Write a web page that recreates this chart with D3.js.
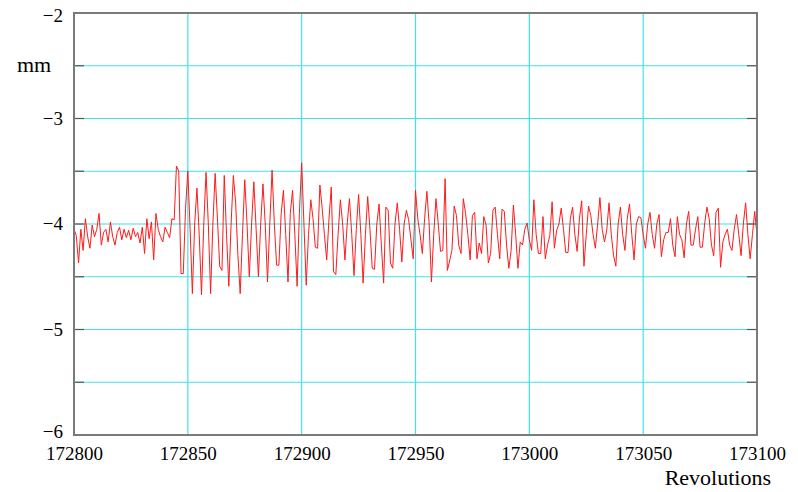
<!DOCTYPE html>
<html>
<head>
<meta charset="utf-8">
<script src="https://cdn.jsdelivr.net/npm/d3@7"></script>
<style>
  body { margin: 0; background: #fff; }
  svg text { font-family: 'Times New Roman', Times, 'Liberation Serif', 'DejaVu Serif', 'Noto Serif', Tinos, serif !important; fill: #000; }
</style>
</head>
<body>
<svg width="798" height="492"></svg>
<script>
// revolution range and one sample per revolution (mm)
const startRev = 172800
const xTicks = [172800, 172850, 172900, 172950, 173000, 173050, 173100]
const yTicks = [-2, -3, -4, -5, -6]
const yGrid = [-2.5, -3, -3.5, -4, -4.5, -5, -5.5]

const offset = [
  -4.05, -4.11, -4.37, -4.05, -4.25, -3.95, -4.12, -4.23, -4.01, -4.12,
  -4.05, -3.90, -4.20, -4.08, -4.05, -4.17, -3.98, -4.12, -4.20, -4.08,
  -4.03, -4.15, -4.05, -4.13, -4.06, -4.15, -4.04, -4.12, -4.08, -4.18,
  -4.03, -4.28, -3.95, -4.14, -3.98, -4.34, -3.90, -4.05, -4.12, -4.17,
  -4.03, -4.08, -4.13, -3.95, -3.96, -3.45, -3.50, -4.47, -4.47, -3.85,
  -3.50, -4.05, -4.66, -4.00, -3.66, -4.10, -4.67, -4.00, -3.51, -4.00,
  -4.66, -4.00, -3.52, -3.95, -4.40, -4.44, -3.54, -4.10, -4.59, -4.00,
  -3.54, -3.80, -4.30, -4.66, -4.10, -3.58, -4.00, -4.50, -4.00, -3.60,
  -4.05, -4.50, -4.00, -3.62, -4.00, -4.55, -4.00, -3.49, -4.00, -4.39,
  -4.39, -3.90, -3.68, -4.10, -4.55, -3.90, -3.68, -4.10, -4.59, -3.90,
  -3.42, -4.00, -4.58, -4.10, -3.77, -3.95, -4.22, -4.23, -3.63, -3.85,
  -4.10, -4.34, -3.95, -3.65, -4.45, -4.48, -4.10, -3.77, -4.00, -4.34,
  -4.00, -3.76, -4.10, -4.49, -4.05, -3.72, -4.10, -4.56, -4.10, -3.74,
  -4.05, -4.42, -4.43, -4.00, -3.81, -4.20, -4.56, -3.84, -3.87, -4.37,
  -4.42, -4.00, -3.80, -4.05, -4.36, -4.00, -3.87, -3.96, -4.15, -4.33,
  -3.68, -3.95, -4.10, -4.28, -3.95, -3.69, -4.00, -4.55, -4.10, -3.76,
  -4.00, -4.26, -4.25, -3.57, -4.44, -4.35, -4.25, -3.83, -3.92, -4.20,
  -4.28, -3.76, -3.90, -4.10, -4.34, -3.92, -3.89, -4.33, -4.18, -4.28,
  -3.93, -4.01, -4.37, -4.28, -3.87, -3.84, -4.10, -4.33, -3.86, -3.88,
  -4.20, -4.42, -4.25, -3.82, -4.10, -4.42, -4.17, -4.20, -4.05, -3.99,
  -4.15, -4.25, -3.77, -4.10, -4.28, -4.28, -3.93, -4.33, -4.20, -4.11,
  -3.79, -4.23, -4.06, -4.00, -3.85, -4.05, -4.27, -4.27, -3.95, -3.84,
  -4.10, -4.26, -3.95, -3.78, -4.40, -4.10, -3.83, -3.92, -4.10, -4.23,
  -4.00, -3.75, -4.05, -4.17, -4.06, -3.80, -4.10, -4.30, -4.40, -4.00,
  -3.84, -4.10, -4.25, -3.95, -3.81, -4.10, -4.34, -4.00, -3.93, -3.94,
  -4.10, -4.23, -4.00, -3.89, -4.10, -4.23, -4.00, -3.91, -4.31, -4.15,
  -4.08, -4.08, -3.95, -4.20, -4.31, -3.93, -4.10, -4.15, -4.32, -4.00,
  -3.88, -4.20, -4.20, -4.05, -3.93, -4.22, -4.22, -4.00, -3.84, -3.95,
  -4.20, -4.30, -3.89, -3.85, -4.41, -4.17, -4.10, -4.05, -4.20, -4.25,
  -4.05, -3.91, -4.10, -4.30, -4.00, -3.80, -4.10, -4.33, -4.10, -3.88,
  -4.11
]

function render(values) {
    const svg = d3.select('svg')
    const left = 74, right = 757, top = 13, bottom = 435

    const nodes = values.map((v, i) => ({ rev: startRev + i, value: v }))

    const xScale = d3.scaleLinear()
        .domain([172800, 173100])
        .range([left, right])

    const yScale = d3.scaleLinear()
        .domain([-6, -2])
        .range([bottom, top])

    const minus = d => String(d).replace('-', '\u2212')

    // grid
    const grid = svg.append('g')
    grid.selectAll('line.h')
        .data(yGrid)
        .enter()
        .append('line')
        .attr('x1', left).attr('x2', right)
        .attr('y1', d => yScale(d)).attr('y2', d => yScale(d))
        .attr('stroke', '#3ee4e8')
        .attr('stroke-width', 1.2)

    grid.selectAll('line.v')
        .data(xTicks.slice(1, -1))
        .enter()
        .append('line')
        .attr('x1', d => xScale(d)).attr('x2', d => xScale(d))
        .attr('y1', top).attr('y2', bottom)
        .attr('stroke', '#3ee4e8')
        .attr('stroke-width', 1.2)

    // short dark ticks on left and right edges
    const tickG = svg.append('g')
    tickG.selectAll('line.l')
        .data(yGrid)
        .enter()
        .append('line')
        .attr('x1', left).attr('x2', left + 10)
        .attr('y1', d => yScale(d)).attr('y2', d => yScale(d))
        .attr('stroke', '#555')
        .attr('stroke-width', 1.2)
    tickG.selectAll('line.r')
        .data(yGrid)
        .enter()
        .append('line')
        .attr('x1', right - 10).attr('x2', right)
        .attr('y1', d => yScale(d)).attr('y2', d => yScale(d))
        .attr('stroke', '#555')
        .attr('stroke-width', 1.2)

    // data line
    const line = d3.line()
        .x(d => xScale(d.rev))
        .y(d => yScale(d.value))

    svg.append('path')
        .datum(nodes)
        .attr('d', line)
        .attr('fill', 'none')
        .attr('stroke', '#ff1a1a')
        .attr('stroke-width', 1)
        .attr('stroke-linejoin', 'round')

    // frame
    svg.append('rect')
        .attr('x', left).attr('y', top)
        .attr('width', right - left).attr('height', bottom - top)
        .attr('fill', 'none')
        .attr('stroke', '#7a7a7a')
        .attr('stroke-width', 2)

    // axes (labels only)
    const yAxis = d3.axisLeft(yScale)
        .tickValues(yTicks)
        .tickSize(0)
        .tickPadding(11)
        .tickFormat(minus)
    svg.append('g')
        .attr('transform', `translate(${left},0)`)
        .call(yAxis)
        .call(g => g.select('.domain').remove())
        .selectAll('text')
        .style('font-size', '19px')
        .attr('dy', d => d === -2 ? '0.45em' : d === -6 ? '0.15em' : '0.3em')

    const xAxis = d3.axisBottom(xScale)
        .tickValues(xTicks)
        .tickSize(0)
        .tickPadding(12)
        .tickFormat(d3.format('d'))
    svg.append('g')
        .attr('transform', `translate(0,${bottom})`)
        .call(xAxis)
        .call(g => g.select('.domain').remove())
        .selectAll('text')
        .style('font-size', '19px')

    svg.append('text')
        .attr('x', 17).attr('y', 72)
        .style('font-size', '22px')
        .text('mm')

    svg.append('text')
        .attr('x', 771).attr('y', 485)
        .attr('text-anchor', 'end')
        .style('font-size', '22px')
        .text('Revolutions')
}

render(offset)
</script>
</body>
</html>
